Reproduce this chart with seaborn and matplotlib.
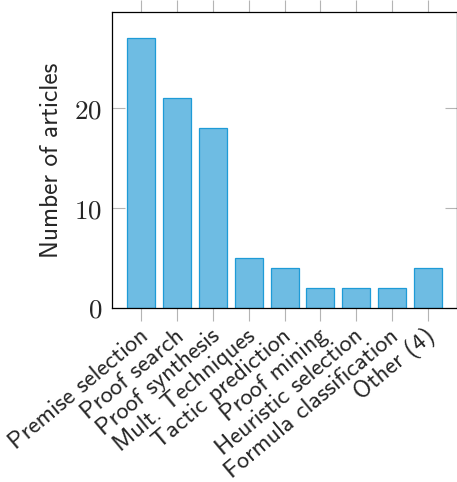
import matplotlib
matplotlib.use("Agg")
import matplotlib.pyplot as plt
from matplotlib.transforms import ScaledTranslation
import seaborn as sns
import pandas as pd

# article counts per technique
categories = ["Premise selection", "Proof search", "Proof synthesis", "Mult. Techniques",
              "Tactic prediction", "Proof mining", "Heuristic selection",
              "Formula classification", "Other (4)"]
counts = [27, 21, 18, 5, 4, 2, 2, 2, 4]
yticks = [0, 10, 20]

df = pd.DataFrame({"category": categories, "articles": counts})

sns.set_style("white")
# computer modern sans, like the latex original
plt.rcParams["font.family"] = ["cmss10", "DejaVu Sans"]
plt.rcParams["mathtext.fontset"] = "cm"
plt.rcParams["axes.unicode_minus"] = False

fig = plt.figure(figsize=(4.57, 4.82), dpi=100)
ax = fig.add_axes([0.245, 0.361, 0.754, 0.614])

sns.barplot(data=df, x="category", y="articles", color="#6ebce3", edgecolor="#1e9bd7",
            linewidth=0.9, width=0.78, saturation=1, ax=ax)

ax.set_xlim(-0.82, 8.8)
ax.set_ylim(0, 29.6)
ax.set_yticks(yticks)
ax.set_yticklabels([f"${v}$" for v in yticks], fontsize=19.5)
ax.set_xticks(range(len(categories)))
ax.set_xticklabels(categories, rotation=40, ha="right", va="baseline",
                   rotation_mode="anchor", fontsize=17.5)

ax.tick_params(axis="x", direction="out", length=9, width=0.8, color="#b4b4b4",
               top=True, bottom=True, pad=12.6)
ax.tick_params(axis="y", direction="in", length=9, width=0.8, color="#b4b4b4",
               left=True, right=True, pad=7)

# nudge rotated labels a bit to the right of the tick
shift = ScaledTranslation(0.08, 0, fig.dpi_scale_trans)
for lab in ax.get_xticklabels():
    lab.set_transform(lab.get_transform() + shift)

for s in ax.spines.values():
    s.set_color("black")
    s.set_linewidth(0.9)

ax.set_xlabel("")
ax.set_ylabel("Number of articles", fontsize=18.2, labelpad=8)

fig.savefig("out.png", dpi=100)
